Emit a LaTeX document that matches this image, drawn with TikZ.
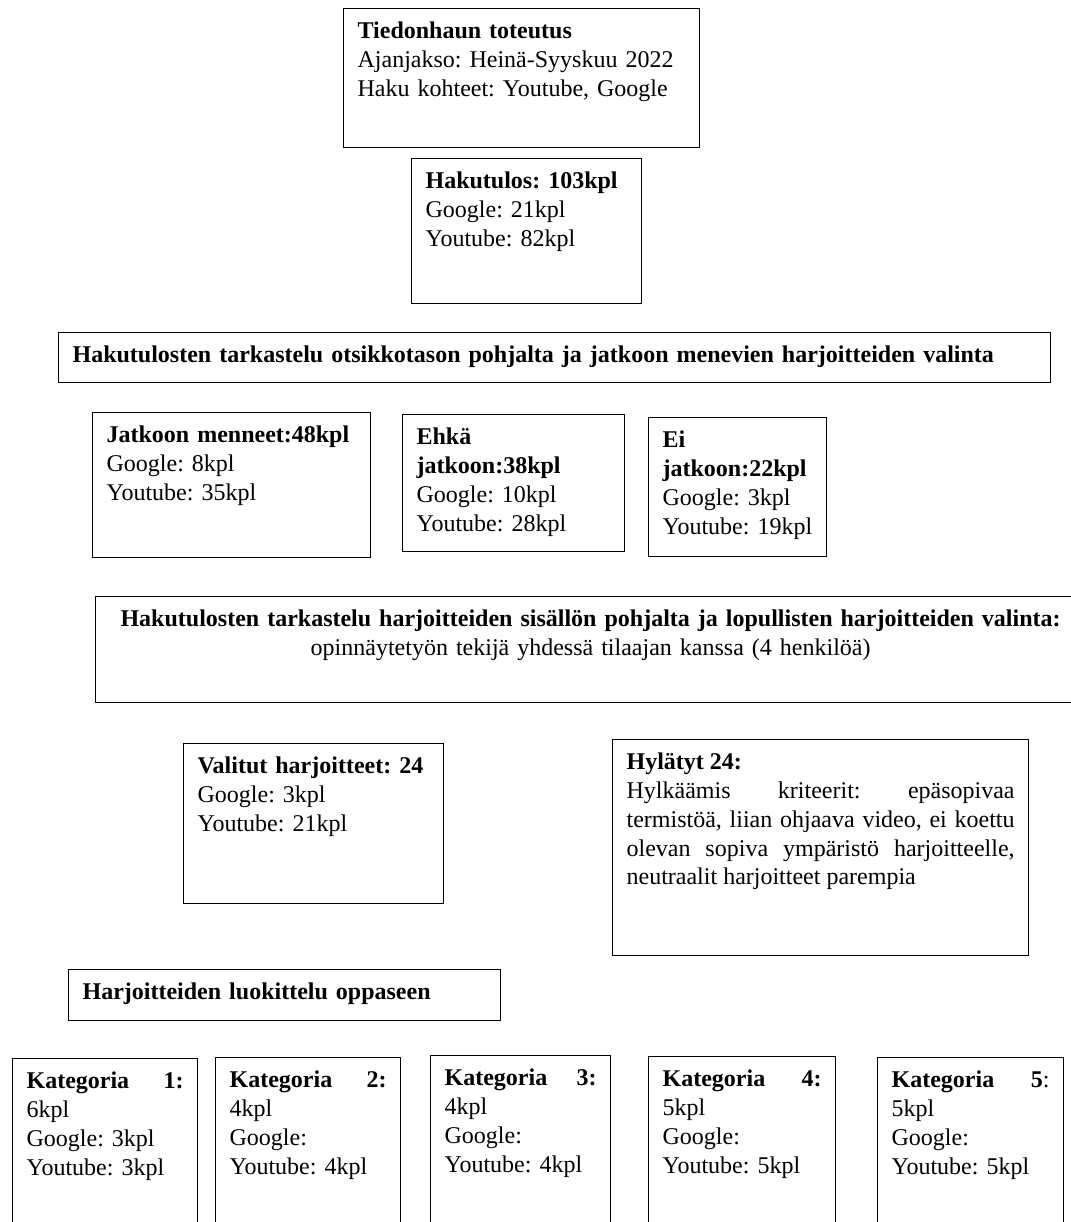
\documentclass[tikz,border=0pt]{standalone}
\usepackage{fontspec}
\setmainfont{Liberation Serif}
\frenchspacing
\tikzset{
	every node/.style={
		font=\fontsize{12}{14.4}\selectfont
	},
	laatikko/.style={
		shape=rectangle,
		draw,
		anchor=north west,
		inner sep=7pt,
		text height=8pt,
		align=left
	},
	koko/.style 2 args={
		text width=#1,
		text depth=#2
	}
}

\begin{document}
\begin{tikzpicture}[x=0.5pt,y=-0.5pt,semithick]
	\useasboundingbox (0,0) rectangle (1071,1222);
	\clip (0,0) rectangle (1071,1222);
	
	\node[laatikko, koko={164pt}{47.5pt}] (toteutus) at (343,8)
		{\textbf{Tiedonhaun toteutus}\\Ajanjakso: Heinä-Syyskuu 2022\\Haku kohteet: Youtube, Google};
	\node[laatikko, koko={101pt}{50.5pt}] (hakutulos) at (411,158)
		{\textbf{Hakutulos: 103kpl}\\Google: 21kpl\\Youtube: 82kpl};
	\node[laatikko, koko={482pt}{3pt}] (otsikot) at (58,332)
		{\textbf{Hakutulosten tarkastelu otsikkotason pohjalta ja jatkoon menevien harjoitteiden valinta}};
	
	\node[laatikko, koko={125pt}{50.5pt}] (jatkoon) at (92,412)
		{\textbf{Jatkoon menneet:48kpl}\\Google: 8kpl\\Youtube: 35kpl};
	\node[laatikko, koko={97pt}{46.5pt}] (ehka) at (402,414)
		{\textbf{Ehkä}\\\textbf{jatkoon:38kpl}\\Google: 10kpl\\Youtube: 28kpl};
	\node[laatikko, koko={75pt}{47.5pt}] (ei) at (648,417)
		{\textbf{Ei}\\\textbf{jatkoon:22kpl}\\Google: 3kpl\\\mbox{Youtube: 19kpl}};
	
	\node[laatikko, koko={481pt}{31pt}, align=center] (sisalto) at (95,596)
		{\textbf{Hakutulosten tarkastelu harjoitteiden sisällön pohjalta ja lopullisten harjoitteiden valinta:}\\opinnäytetyön tekijä yhdessä tilaajan kanssa (4 henkilöä)};
	
	\node[laatikko, koko={116pt}{58pt}] (valitut) at (183,743)
		{\textbf{Valitut harjoitteet: 24}\\Google: 3kpl\\Youtube: 21kpl};
	\node[laatikko, koko={194pt}{86pt}, align=justify] (hylatyt) at (612,739)
		{\textbf{Hylätyt 24:}\\Hylkäämis kriteerit: epäsopivaa\linebreak termistöä, liian ohjaava video, ei koettu\linebreak olevan sopiva ympäristö harjoitteelle,\linebreak neutraalit harjoitteet parempia};
	
	\node[laatikko, koko={202pt}{3.5pt}] (luokittelu) at (68,969)
		{\textbf{Harjoitteiden luokittelu oppaseen}};
	
	% kategoriat
	\node[laatikko, koko={78.5pt}{73pt}] (kat1) at (12,1058)
		{\textbf{Kategoria\hfill 1:}\\6kpl\\Google: 3kpl\\Youtube: 3kpl};
	\node[laatikko, koko={78.5pt}{73pt}] (kat2) at (215,1057)
		{\textbf{Kategoria\hfill 2:}\\4kpl\\Google:\\Youtube: 4kpl};
	\node[laatikko, koko={76pt}{73pt}] (kat3) at (430,1055)
		{\textbf{Kategoria\hfill 3:}\\4kpl\\Google:\\Youtube: 4kpl};
	\node[laatikko, koko={79.5pt}{73pt}] (kat4) at (648,1056)
		{\textbf{Kategoria\hfill 4:}\\5kpl\\Google:\\Youtube: 5kpl};
	\node[laatikko, koko={79pt}{73pt}] (kat5) at (877,1057)
		{\textbf{Kategoria\hfill 5}:\\5kpl\\Google:\\Youtube: 5kpl};
\end{tikzpicture}
\end{document}
